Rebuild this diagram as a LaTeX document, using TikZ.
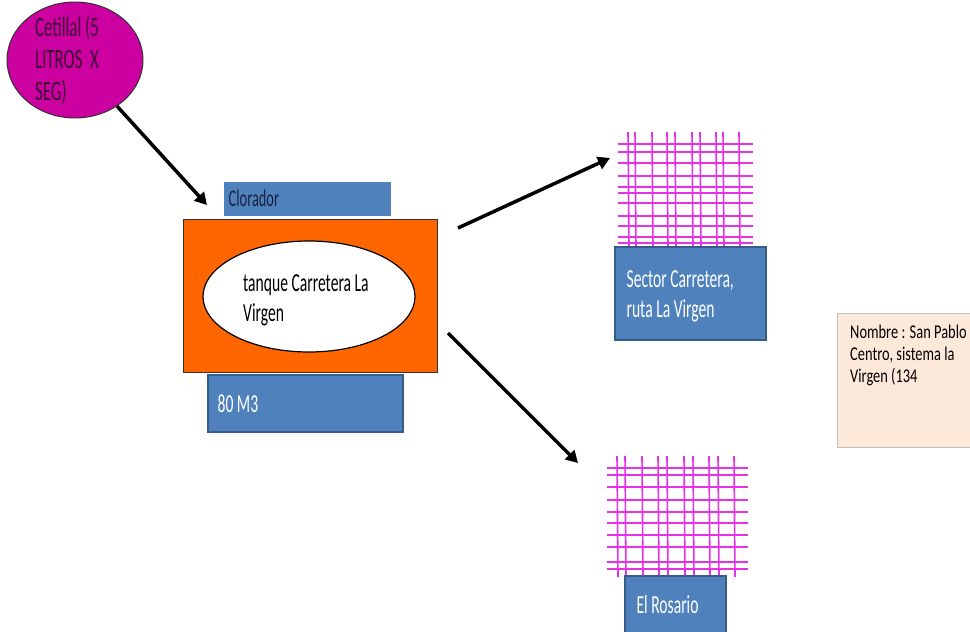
\documentclass[tikz,border=0pt]{standalone}
\usepackage{fontspec}
\setmainfont{Carlito}[FakeStretch=0.6]
\newfontfamily\notefont{Carlito}[FakeStretch=0.74]
\usetikzlibrary{shapes.geometric,arrows.meta,shadows}
\definecolor{cetmag}{RGB}{204,0,160}
\definecolor{cettext}{RGB}{60,0,50}
\definecolor{tankorange}{RGB}{255,102,0}
\definecolor{boxblue}{RGB}{79,129,189}
\definecolor{boxedge}{RGB}{56,93,138}
\definecolor{clortext}{RGB}{25,35,65}
\definecolor{gridmag}{RGB}{230,50,230}
\definecolor{notepeach}{RGB}{253,233,217}
\begin{document}
\begin{tikzpicture}[x=1pt,y=-1pt]
	\tikzstyle{blue box}=[rectangle,fill=boxblue,draw=boxedge,line width=1.2pt,inner sep=0pt]
	\tikzstyle{label text}=[anchor=west,align=left,inner sep=0pt]
	\tikzstyle{flow}=[line width=3.5pt,-{Triangle[length=12pt,width=13pt]}]
	\tikzstyle{grid line}=[gridmag,line width=1.6pt]
	\tikzstyle{big text}=[font=\fontsize{26}{30}\selectfont]
	
	\useasboundingbox (0,0) rectangle (970,632);
	
	% Source
	\node[ellipse,fill=cetmag,draw=black!80,line width=1pt,minimum width=136pt,minimum height=116pt,inner sep=0pt] (cet) at (75,60) {};
	\node[label text,text=cettext,font=\fontsize{28}{32}\selectfont] (cet-txt) at (35,60) {Cetillal (5\\LITROS\ \ X\\SEG)};
	
	% Tank
	\node[rectangle,fill=tankorange,draw=black!80,line width=1pt,minimum width=254pt,minimum height=153pt,inner sep=0pt] (tank) at (310,295.5) {};
	\node[ellipse,fill=white,draw=black,line width=1.2pt,minimum width=212pt,minimum height=111pt,inner sep=0pt] (tank-in) at (309,296.5) {};
	\node[label text,big text] (tank-txt) at (243,300) {tanque Carretera La\\Virgen};
	\node[blue box,draw=white,line width=3pt,drop shadow={opacity=0.3,shadow xshift=1.5pt,shadow yshift=-1.5pt},minimum width=170pt,minimum height=37pt] (clor) at (307,198.5) {};
	\node[label text,text=clortext,font=\fontsize{24}{28}\selectfont] (clor-txt) at ([xshift=8pt]clor.west) {Clorador};
	\node[blue box,minimum width=195pt,minimum height=57pt] (vol) at (305.5,403.5) {};
	\node[label text,text=white,big text] (vol-txt) at ([xshift=10pt]vol.west) {80 M3};
	
	% Flows
	\coordinate (in-tip) at (207,205);
	\coordinate (out1) at (458,228);
	\coordinate (out1-tip) at (610,158);
	\coordinate (out2) at (448,333);
	\coordinate (out2-tip) at (578,463);
	\draw[flow] (cet) -- (in-tip);
	\draw[flow] (out1) -- (out1-tip);
	\draw[flow] (out2) -- (out2-tip);
	
	% Sector Carretera network
	\foreach \x in {628,635,652,667,675,692,700,716,723,739}
	\draw[grid line] (\x,132) -- (\x+1,247);
	\foreach \y in {144,152,163,176,187,193,203,216,226,237,243}
	\draw[grid line] (618,\y) -- (753,\y);
	\node[blue box,minimum width=151pt,minimum height=93pt] (sec) at (690.5,293.5) {};
	\node[label text,text=white,big text] (sec-txt) at ([xshift=12pt,yshift=-3pt]sec.west) {Sector Carretera,\\ruta La Virgen};
	
	% El Rosario network
	\foreach \x in {617,625,642,658,667,684,693,709,718,734}
	\draw[grid line] (\x,456) -- (\x+1,577);
	\foreach \y in {468,475,487,500,512,523,535,547,562,569}
	\draw[grid line] (607,\y) -- (748,\y);
	\node[blue box,minimum width=101pt,minimum height=58pt] (ros) at (675.5,605) {};
	\node[label text,text=white,big text] (ros-txt) at ([xshift=12pt]ros.west) {El Rosario};
	
	% Note
	\node[rectangle,fill=notepeach,draw=black!25,line width=1pt,minimum width=140pt,minimum height=134pt,anchor=north west,inner sep=0pt] (note) at (837,313) {};
	\node[anchor=north west,align=left,inner sep=0pt,font=\notefont\fontsize{19.5}{22}\selectfont] (note-txt) at ([xshift=13pt,yshift=-12pt]note.north west) {Nombre : San Pablo\\Centro, sistema la\\Virgen (134};
\end{tikzpicture}
\end{document}
